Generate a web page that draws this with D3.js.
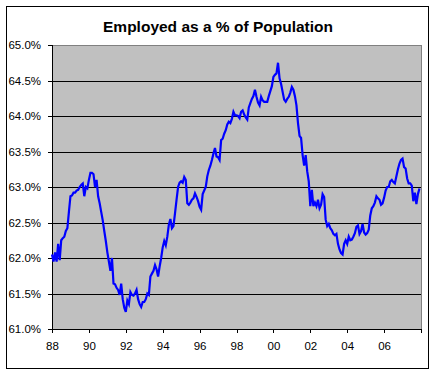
<!DOCTYPE html>
<html>
<head>
<meta charset="utf-8">
<script src="https://cdn.jsdelivr.net/npm/d3@7"></script>
<style>
  body { margin: 0; background: #fff; }
  text { font-family: "Liberation Sans", Arial, sans-serif; }
</style>
</head>
<body>
<svg width="436" height="375"></svg>
<script>
// monthly values, Jan 1988 .. Dec 2007
var startYear = 1988;
var employed = [
  62.05, 61.95, 62.08, 61.95, 62.20, 61.97, 62.25, 62.28, 62.30, 62.38, 62.42, 62.65, // 1988
  62.87, 62.88, 62.92, 62.92, 62.95, 62.96, 63.00, 63.03, 63.05, 62.87, 63.00, 62.98, // 1989
  63.10, 63.20, 63.20, 63.18, 63.00, 63.10, 62.87, 62.77, 62.65, 62.53, 62.38, 62.24, // 1990
  62.08, 61.95, 61.82, 62.00, 61.64, 61.63, 61.58, 61.55, 61.48, 61.64, 61.42, 61.30, // 1991
  61.24, 61.40, 61.35, 61.52, 61.48, 61.47, 61.50, 61.55, 61.42, 61.35, 61.31, 61.38, // 1992
  61.38, 61.42, 61.50, 61.48, 61.74, 61.78, 61.82, 61.90, 61.84, 61.74, 61.88, 62.00, // 1993
  62.15, 62.24, 62.18, 62.30, 62.47, 62.55, 62.42, 62.45, 62.63, 62.82, 63.00, 63.06, // 1994
  63.08, 63.06, 63.14, 63.10, 62.77, 62.75, 62.78, 62.82, 62.84, 62.91, 62.86, 62.80, // 1995
  62.72, 62.68, 62.90, 62.95, 63.00, 63.15, 63.24, 63.30, 63.38, 63.47, 63.55, 63.43, // 1996
  63.42, 63.38, 63.66, 63.68, 63.75, 63.80, 63.88, 63.92, 63.90, 63.96, 64.06, 64.01, // 1997
  64.01, 64.00, 63.97, 64.06, 64.08, 64.02, 63.98, 63.95, 64.12, 64.18, 64.24, 64.28, // 1998
  64.37, 64.27, 64.19, 64.15, 64.27, 64.22, 64.20, 64.20, 64.20, 64.28, 64.35, 64.42, // 1999
  64.55, 64.58, 64.60, 64.75, 64.53, 64.45, 64.34, 64.23, 64.20, 64.24, 64.27, 64.33, // 2000
  64.41, 64.37, 64.28, 64.15, 63.90, 63.72, 63.69, 63.45, 63.30, 63.45, 63.22, 63.08, // 2001
  62.73, 62.96, 62.73, 62.78, 62.73, 62.82, 62.70, 62.75, 62.90, 62.86, 62.54, 62.45, // 2002
  62.48, 62.42, 62.39, 62.34, 62.32, 62.34, 62.20, 62.12, 62.07, 62.05, 62.20, 62.25, // 2003
  62.20, 62.30, 62.25, 62.26, 62.30, 62.35, 62.44, 62.46, 62.34, 62.38, 62.48, 62.36, // 2004
  62.33, 62.35, 62.40, 62.60, 62.70, 62.73, 62.78, 62.87, 62.84, 62.82, 62.75, 62.77, // 2005
  62.85, 62.95, 63.00, 63.00, 63.08, 63.10, 63.07, 63.05, 63.15, 63.25, 63.33, 63.38, // 2006
  63.40, 63.28, 63.26, 63.12, 63.05, 63.05, 63.02, 62.80, 62.92, 62.76, 62.90, 62.98  // 2007
];
var yTicks = [61.0, 61.5, 62.0, 62.5, 63.0, 63.5, 64.0, 64.5, 65.0];
var xTickYears = [1988, 1990, 1992, 1994, 1996, 1998, 2000, 2002, 2004, 2006, 2008];
var xTickLabels = ["88", "90", "92", "94", "96", "98", "00", "02", "04", "06", ""];
var title = "Employed as a % of Population";

var svg = d3.select("svg"),
    margin = {top: 45, left: 52},
    width = 369,
    height = 284;

// outer chart border
svg.append("rect")
    .attr("x", 6.5).attr("y", 6.5)
    .attr("width", 422).attr("height", 362)
    .attr("fill", "#fff").attr("stroke", "#000");

svg.append("text")
    .attr("x", 218).attr("y", 32)
    .attr("text-anchor", "middle")
    .attr("font-size", "15.5px")
    .attr("font-weight", "bold")
    .text(title);

var x = d3.scaleLinear().domain([1988, 2008]).range([0, width]),
    y = d3.scaleLinear().domain([61, 65]).range([height, 0]);

var g = svg.append("g")
    .attr("transform", "translate(" + margin.left + "," + margin.top + ")");

// gray plot area with gray frame
g.append("rect")
    .attr("width", width).attr("height", height)
    .attr("fill", "#c0c0c0").attr("stroke", "#808080")
    .attr("shape-rendering", "crispEdges");

// gridlines
g.selectAll(".grid")
  .data(yTicks.filter(function(d) { return d > 61 && d < 65; }))
  .enter().append("line")
    .attr("x1", 0).attr("x2", width)
    .attr("y1", function(d) { return Math.round(y(d)) + 0.5; })
    .attr("y2", function(d) { return Math.round(y(d)) + 0.5; })
    .attr("stroke", "#000")
    .attr("shape-rendering", "crispEdges");

// y axis
var yAxis = g.append("g")
    .call(d3.axisLeft(y).tickValues(yTicks).tickSize(4).tickPadding(7)
      .tickFormat(function(d) { return d.toFixed(1) + "%"; }));
yAxis.selectAll("text").attr("font-size", "11.5px").attr("fill", "#000")
    .style("font-family", "'Liberation Sans', Arial, sans-serif");
yAxis.selectAll("path, line").attr("stroke", "#000").attr("shape-rendering", "crispEdges");

// x axis
var xAxis = g.append("g")
    .attr("transform", "translate(0," + height + ")")
    .call(d3.axisBottom(x).tickValues(xTickYears).tickSize(4).tickPadding(9)
      .tickFormat(function(d, i) { return xTickLabels[i]; }));
xAxis.selectAll("text").attr("font-size", "11.5px").attr("fill", "#000")
    .style("font-family", "'Liberation Sans', Arial, sans-serif");
xAxis.selectAll("path, line").attr("stroke", "#000").attr("shape-rendering", "crispEdges");

// the series
var line = d3.line()
    .x(function(d, i) { return x(startYear + i / 12); })
    .y(function(d) { return y(d); });

g.append("path")
    .datum(employed)
    .attr("fill", "none")
    .attr("stroke", "#0000ff")
    .attr("stroke-width", 2.2)
    .attr("stroke-linejoin", "miter")
    .attr("d", line);
</script>
</body>
</html>
